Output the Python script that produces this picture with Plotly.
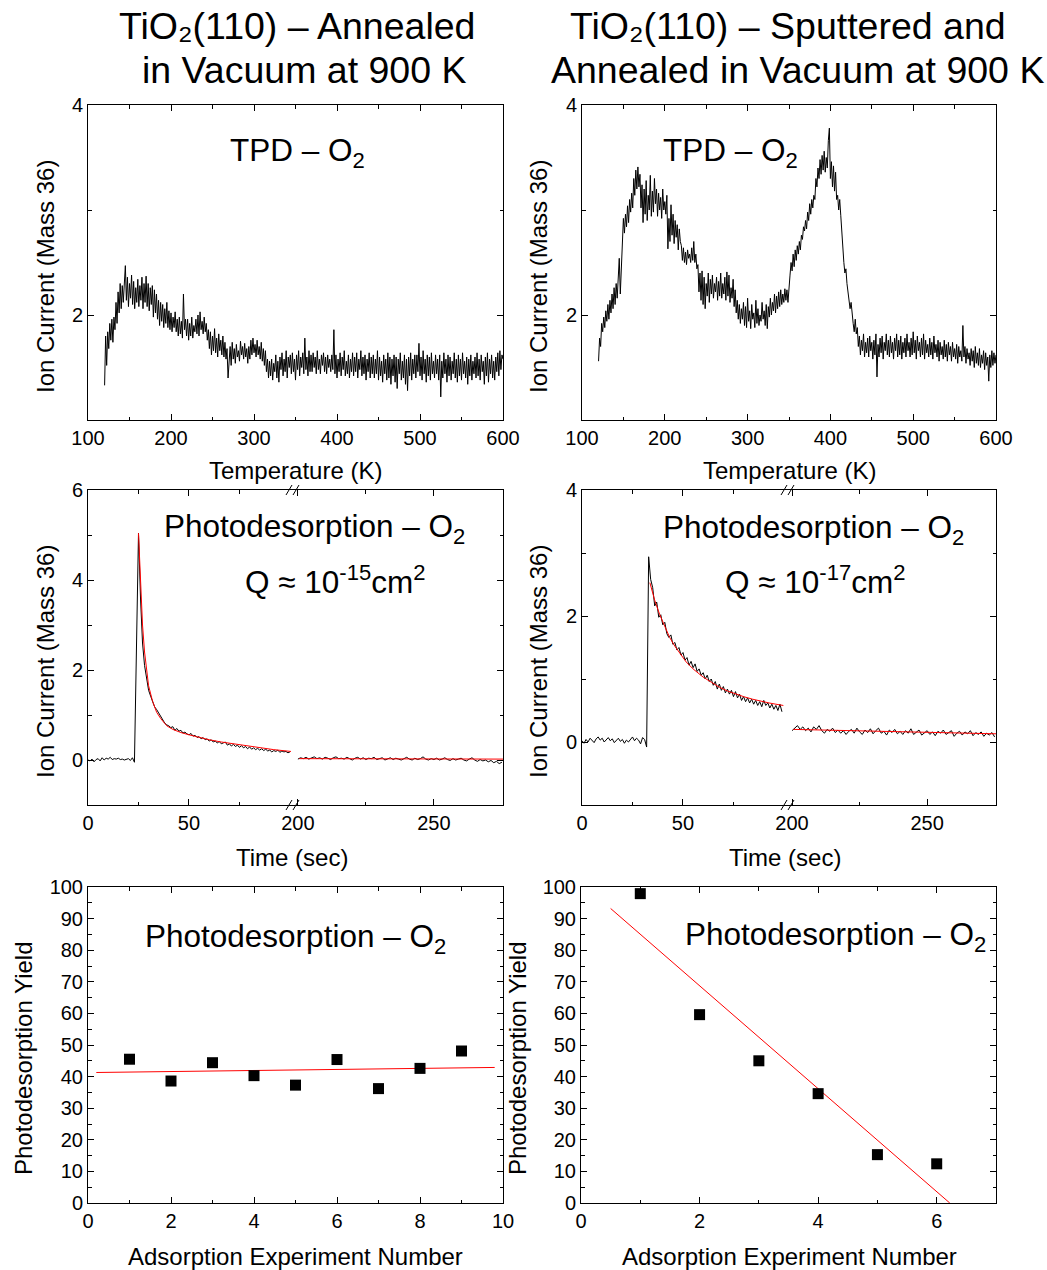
import numpy as np
import plotly.graph_objects as go

W, H = 1047, 1270
FONT = "Arial, Liberation Sans, DejaVu Sans, sans-serif"

# ---------------------------------------------------------------- TPD data
# Mass-36 ion current, sampled every 1.25 K from 120 K to 600 K
tpd_start, tpd_step = 120.0, 1.25
tpd_annealed = [
    1.33, 1.80, 1.52, 1.84, 1.68, 1.92, 1.76, 1.96, 1.74, 1.98, 1.86, 2.12, 1.92, 2.22, 2.02, 2.30, 2.06, 2.28, 2.12, 2.34,
    2.47, 2.14, 2.36, 2.08, 2.30, 2.16, 2.38, 2.10, 2.32, 2.06, 2.26, 2.12, 2.34, 2.08, 2.28, 2.14, 2.36, 2.06, 2.30, 2.12,
    2.37, 2.08, 2.30, 2.04, 2.26, 2.10, 2.28, 1.98, 2.24, 2.02, 2.20, 1.96, 2.14, 1.90, 2.12, 1.94, 2.10, 1.88, 2.06, 1.92,
    2.12, 1.88, 2.04, 1.86, 2.02, 1.84, 1.98, 1.88, 2.03, 1.84, 1.96, 1.80, 1.98, 1.82, 1.94, 1.78, 2.20, 1.86, 1.96, 1.80,
    1.96, 1.76, 1.92, 1.80, 1.98, 1.78, 1.90, 1.84, 1.96, 1.82, 2.00, 1.80, 2.03, 1.86, 1.94, 1.82, 1.98, 1.84, 1.92, 1.76,
    1.86, 1.68, 1.84, 1.62, 1.80, 1.66, 1.87, 1.64, 1.78, 1.60, 1.82, 1.66, 1.76, 1.62, 1.80, 1.60, 1.74, 1.58, 1.68, 1.40,
    1.62, 1.70, 1.52, 1.74, 1.58, 1.68, 1.54, 1.72, 1.60, 1.66, 1.56, 1.75, 1.62, 1.70, 1.58, 1.73, 1.60, 1.68, 1.54, 1.70,
    1.58, 1.76, 1.62, 1.78, 1.64, 1.72, 1.60, 1.76, 1.62, 1.70, 1.58, 1.74, 1.56, 1.68, 1.52, 1.66, 1.46, 1.58, 1.40, 1.56,
    1.42, 1.58, 1.38, 1.54, 1.46, 1.62, 1.40, 1.56, 1.36, 1.60, 1.48, 1.64, 1.42, 1.58, 1.46, 1.66, 1.40, 1.60, 1.50, 1.62,
    1.44, 1.64, 1.46, 1.58, 1.38, 1.62, 1.48, 1.66, 1.42, 1.60, 1.50, 1.64, 1.44, 1.78, 1.48, 1.60, 1.42, 1.66, 1.46, 1.62,
    1.46, 1.64, 1.50, 1.60, 1.44, 1.66, 1.48, 1.58, 1.44, 1.62, 1.52, 1.64, 1.46, 1.60, 1.44, 1.62, 1.50, 1.58, 1.46, 1.62,
    1.48, 1.86, 1.44, 1.62, 1.40, 1.58, 1.46, 1.64, 1.42, 1.60, 1.48, 1.66, 1.42, 1.56, 1.44, 1.62, 1.40, 1.58, 1.46, 1.64,
    1.42, 1.60, 1.46, 1.64, 1.40, 1.58, 1.48, 1.66, 1.42, 1.60, 1.44, 1.62, 1.38, 1.58, 1.46, 1.64, 1.40, 1.60, 1.44, 1.62,
    1.40, 1.58, 1.44, 1.66, 1.38, 1.60, 1.42, 1.56, 1.36, 1.62, 1.44, 1.58, 1.38, 1.64, 1.40, 1.60, 1.34, 1.58, 1.42, 1.62,
    1.36, 1.60, 1.30, 1.58, 1.44, 1.64, 1.38, 1.56, 1.40, 1.62, 1.34, 1.58, 1.28, 1.60, 1.42, 1.64, 1.38, 1.58, 1.44, 1.62,
    1.40, 1.62, 1.46, 1.73, 1.42, 1.60, 1.38, 1.66, 1.44, 1.58, 1.36, 1.62, 1.42, 1.60, 1.38, 1.64, 1.44, 1.56, 1.40, 1.62,
    1.44, 1.58, 1.38, 1.62, 1.22, 1.56, 1.40, 1.64, 1.44, 1.58, 1.36, 1.62, 1.42, 1.60, 1.38, 1.56, 1.44, 1.64, 1.40, 1.58,
    1.36, 1.62, 1.42, 1.58, 1.38, 1.64, 1.44, 1.56, 1.40, 1.60, 1.34, 1.58, 1.42, 1.62, 1.38, 1.56, 1.44, 1.60, 1.40, 1.64,
    1.42, 1.58, 1.38, 1.62, 1.46, 1.56, 1.34, 1.60, 1.42, 1.64, 1.36, 1.58, 1.44, 1.62, 1.40, 1.56, 1.38, 1.60, 1.46, 1.64,
    1.42, 1.66, 1.48, 1.62, 1.58,
]
tpd_sputtered = [
    1.56, 1.78, 1.70, 1.92, 1.84, 1.98, 1.88, 2.04, 1.94, 2.10, 1.96, 2.14, 2.02, 2.20, 2.06, 2.26, 2.10, 2.30, 2.16, 2.40,
    2.54, 2.20, 2.48, 2.80, 2.92, 2.78, 2.96, 2.84, 3.04, 2.88, 3.10, 2.98, 3.16, 3.02, 3.30, 3.14, 3.38, 3.20, 3.41, 3.22,
    3.34, 3.02, 3.24, 2.88, 3.20, 2.96, 3.28, 2.90, 3.14, 3.00, 3.33, 2.94, 3.18, 2.98, 3.30, 3.06, 3.20, 2.94, 3.16, 3.00,
    3.12, 2.92, 3.20, 3.00, 3.08, 2.96, 3.14, 2.63, 2.92, 2.70, 3.05, 2.76, 2.96, 2.68, 2.90, 2.74, 2.86, 2.62, 2.82, 2.70,
    2.66, 2.52, 2.64, 2.50, 2.60, 2.48, 2.62, 2.54, 2.58, 2.50, 2.64, 2.52, 2.70, 2.50, 2.58, 2.44, 2.48, 2.22, 2.40, 2.14,
    2.42, 2.10, 2.36, 2.06, 2.30, 2.18, 2.40, 2.12, 2.34, 2.20, 2.38, 2.16, 2.30, 2.22, 2.36, 2.14, 2.32, 2.18, 2.40, 2.16,
    2.30, 2.20, 2.36, 2.14, 2.41, 2.18, 2.38, 2.12, 2.26, 2.16, 2.34, 2.08, 2.24, 2.02, 2.14, 1.96, 2.10, 1.92, 2.06, 1.96,
    2.12, 1.90, 2.08, 1.88, 2.16, 1.94, 2.04, 1.87, 2.10, 1.96, 2.02, 1.88, 2.14, 1.92, 2.06, 1.90, 2.00, 1.94, 2.12, 1.96,
    2.04, 1.90, 2.10, 1.87, 2.08, 1.98, 2.16, 2.00, 2.12, 2.04, 2.20, 2.02, 2.18, 2.06, 2.22, 2.08, 2.24, 2.10, 2.20, 2.12,
    2.25, 2.14, 2.24, 2.12, 2.30, 2.38, 2.50, 2.42, 2.58, 2.46, 2.62, 2.52, 2.66, 2.58, 2.70, 2.62, 2.76, 2.72, 2.84, 2.80,
    2.90, 2.82, 2.98, 2.90, 3.06, 2.96, 3.10, 3.02, 3.14, 3.10, 3.30, 3.22, 3.40, 3.30, 3.48, 3.34, 3.52, 3.38, 3.56, 3.36,
    3.50, 3.40, 3.66, 3.78, 3.30, 3.46, 3.22, 3.42, 3.18, 3.36, 3.10, 3.14, 3.00, 3.10, 2.95, 2.78, 2.60, 2.50, 2.40, 2.44,
    2.30, 2.22, 2.14, 2.06, 2.12, 1.98, 1.92, 1.84, 1.96, 1.82, 1.88, 1.70, 1.80, 1.62, 1.76, 1.66, 1.82, 1.60, 1.74, 1.64,
    1.78, 1.60, 1.80, 1.66, 1.74, 1.58, 1.76, 1.62, 1.82, 1.41, 1.72, 1.60, 1.78, 1.64, 1.80, 1.58, 1.74, 1.66, 1.82, 1.62,
    1.76, 1.60, 1.80, 1.64, 1.74, 1.58, 1.78, 1.66, 1.82, 1.60, 1.76, 1.62, 1.80, 1.58, 1.74, 1.64, 1.78, 1.60, 1.82, 1.66,
    1.74, 1.60, 1.78, 1.62, 1.84, 1.64, 1.76, 1.58, 1.80, 1.66, 1.74, 1.60, 1.78, 1.62, 1.82, 1.58, 1.76, 1.64, 1.72, 1.60,
    1.78, 1.62, 1.74, 1.58, 1.80, 1.64, 1.72, 1.60, 1.76, 1.56, 1.74, 1.62, 1.70, 1.58, 1.76, 1.60, 1.72, 1.56, 1.74, 1.62,
    1.70, 1.56, 1.74, 1.60, 1.68, 1.58, 1.72, 1.54, 1.70, 1.60, 1.66, 1.56, 1.90, 1.60, 1.70, 1.54, 1.68, 1.58, 1.64, 1.52,
    1.68, 1.56, 1.66, 1.50, 1.70, 1.54, 1.64, 1.52, 1.68, 1.50, 1.62, 1.54, 1.66, 1.48, 1.64, 1.52, 1.60, 1.37, 1.62, 1.50,
    1.66, 1.52, 1.64, 1.54, 1.62,
]

# ------------------------------------------------- photodesorption traces
# early part sampled every 1 s from 0 s, late part every 1 s from 200 s
pd_step = 1.0
pd_early_start, pd_late_start = 0.0, 200.0

pd_annealed_early = [
    0.00, -0.02, 0.02, -0.04, 0.01, 0.03, -0.02, 0.05, 0.00, 0.04,
    0.02, 0.06, 0.01, 0.03, 0.02, 0.04, 0.01, 0.02, 0.00, 0.01,
    0.03, -0.01, 0.05, -0.05, 2.50, 5.04, 3.60, 2.60, 2.10, 1.85,
    1.55, 1.42, 1.28, 1.18, 1.12, 1.04, 0.96, 0.90, 0.82, 0.78,
    0.76, 0.72, 0.74, 0.66, 0.70, 0.64, 0.66, 0.60, 0.62, 0.58,
    0.56, 0.59, 0.53, 0.55, 0.50, 0.52, 0.47, 0.50, 0.45, 0.47,
    0.42, 0.45, 0.40, 0.42, 0.38, 0.41, 0.36, 0.38, 0.40, 0.33,
    0.36, 0.31, 0.35, 0.30, 0.33, 0.28, 0.32, 0.27, 0.30, 0.25,
    0.29, 0.24, 0.27, 0.23, 0.26, 0.22, 0.25, 0.21, 0.24, 0.20,
    0.22, 0.18, 0.21, 0.19, 0.22, 0.17, 0.20, 0.18, 0.19, 0.16,
    0.18,
]
pd_annealed_late = [
    0.02, 0.05, 0.03, 0.06, 0.02, 0.04, 0.07, 0.03, 0.05, 0.02,
    0.06, 0.04, 0.01, 0.05, 0.07, 0.03, 0.04, 0.02, 0.06, 0.03,
    0.00, 0.04, 0.06, 0.02, 0.05, 0.01, 0.04, 0.03, 0.06, 0.01,
    0.03, 0.05, 0.00, 0.03, 0.05, 0.01, 0.04, 0.02, 0.00, 0.03,
    0.06, 0.02, 0.00, 0.04, 0.01, 0.03, 0.07, 0.02, 0.00, 0.03,
    0.01, 0.04, 0.00, 0.02, 0.05, 0.01, -0.01, 0.03, 0.00, 0.02,
    0.04, 0.00, -0.02, 0.02, 0.05, 0.00, -0.03, 0.01, -0.02, 0.00,
    -0.04, -0.01, -0.06, -0.03, -0.08, -0.05,
]
fit_annealed_t_early = [25, 26, 27, 28, 29, 30, 32, 34, 36, 39, 42, 46, 50,
                        55, 60, 66, 72, 78, 85, 92, 100.5]
fit_annealed_early = [5.04, 3.90, 3.00, 2.40, 1.95, 1.65, 1.30, 1.06, 0.92,
                      0.76, 0.68, 0.61, 0.56, 0.50, 0.45, 0.40, 0.36, 0.32,
                      0.27, 0.23, 0.19]
fit_annealed_t_late = [200.5, 240, 275.5]
fit_annealed_late = [0.03, 0.025, 0.02]

pd_sputtered_early = [
    0.02, -0.02, 0.04, 0.00, 0.06, 0.02, -0.01, 0.05, 0.08, 0.03,
    0.06, 0.00, 0.04, 0.07, 0.02, 0.05, -0.01, 0.03, 0.06, 0.01,
    0.04, -0.02, 0.03, 0.00, 0.05, 0.08, 0.02, 0.06, 0.03, -0.03,
    0.07, 0.04, -0.08, 2.94, 2.58, 2.45, 2.16, 2.22, 1.98, 2.02,
    1.86, 1.90, 1.72, 1.66, 1.70, 1.55, 1.58, 1.46, 1.50, 1.38,
    1.42, 1.30, 1.34, 1.22, 1.28, 1.18, 1.24, 1.12, 1.16, 1.06,
    1.10, 1.00, 1.06, 0.96, 1.00, 0.90, 0.96, 0.84, 0.92, 0.82,
    0.88, 0.78, 0.84, 0.76, 0.82, 0.72, 0.80, 0.70, 0.76, 0.66,
    0.72, 0.64, 0.70, 0.62, 0.68, 0.60, 0.66, 0.58, 0.64, 0.56,
    0.66, 0.58, 0.62, 0.54, 0.60, 0.52, 0.58, 0.50, 0.60, 0.48,
]
pd_sputtered_late = [
    0.18, 0.22, 0.26, 0.20, 0.24, 0.18, 0.22, 0.16, 0.24, 0.20,
    0.26, 0.18, 0.14, 0.20, 0.17, 0.22, 0.15, 0.19, 0.14, 0.18,
    0.12, 0.17, 0.20, 0.14, 0.22, 0.16, 0.12, 0.19, 0.15, 0.21,
    0.13, 0.18, 0.22, 0.14, 0.17, 0.11, 0.19, 0.15, 0.20, 0.13,
    0.17, 0.12, 0.18, 0.14, 0.21, 0.12, 0.16, 0.19, 0.11, 0.15,
    0.18, 0.12, 0.16, 0.10, 0.17, 0.14, 0.19, 0.12, 0.15, 0.18,
    0.09, 0.14, 0.17, 0.11, 0.16, 0.13, 0.18, 0.10, 0.15, 0.12,
    0.16, 0.09, 0.14, 0.11, 0.15, 0.08,
]
fit_sputtered_t_early = [33.6, 36, 38.5, 41, 43.4, 46, 48.4, 51.6, 55, 60, 64,
                         68, 72, 76, 80, 84.4, 88, 92.6, 96, 99.7]
fit_sputtered_early = [2.53, 2.25, 2.02, 1.83, 1.66, 1.52, 1.41, 1.27, 1.16,
                       1.03, 0.95, 0.87, 0.81, 0.76, 0.72, 0.68, 0.65, 0.62,
                       0.60, 0.58]
fit_sputtered_t_late = [200.5, 275.5]
fit_sputtered_late = [0.20, 0.13]

# --------------------------------------------------- yield vs. experiment
exp_annealed = [1, 2, 3, 4, 5, 6, 7, 8, 9]
yield_annealed = [45.5, 38.6, 44.4, 40.3, 37.3, 45.4, 36.2, 42.6, 48.1]
fit_annealed_x = [0.2, 9.8]
fit_annealed_y = [41.3, 42.9]

exp_sputtered = [1, 2, 3, 4, 5, 6]
yield_sputtered = [97.9, 59.6, 45.0, 34.6, 15.3, 12.4]
fit_sputtered_x = [0.5, 6.22]
fit_sputtered_y = [93.2, 0.0]


def grid(start, step, values):
    return start + step * np.arange(len(values))


def xdom(a, b):
    return [a / W, b / W]


def ydom(top, bottom):
    return [1 - bottom / H, 1 - top / H]


fig = go.Figure()
black = dict(color="black", width=1)
red = dict(color="red", width=1)

# TPD panels
fig.add_trace(go.Scatter(x=grid(tpd_start, tpd_step, tpd_annealed), y=tpd_annealed,
                         mode="lines", line=black, xaxis="x", yaxis="y"))
fig.add_trace(go.Scatter(x=grid(tpd_start, tpd_step, tpd_sputtered), y=tpd_sputtered,
                         mode="lines", line=black, xaxis="x2", yaxis="y2"))

# photodesorption, annealed surface (broken time axis)
fig.add_trace(go.Scatter(x=grid(pd_early_start, pd_step, pd_annealed_early), y=pd_annealed_early,
                         mode="lines", line=black, xaxis="x3", yaxis="y3"))
fig.add_trace(go.Scatter(x=fit_annealed_t_early, y=fit_annealed_early,
                         mode="lines", line=red, xaxis="x3", yaxis="y3"))
fig.add_trace(go.Scatter(x=grid(pd_late_start, pd_step, pd_annealed_late), y=pd_annealed_late,
                         mode="lines", line=black, xaxis="x4", yaxis="y4"))
fig.add_trace(go.Scatter(x=fit_annealed_t_late, y=fit_annealed_late,
                         mode="lines", line=red, xaxis="x4", yaxis="y4"))

# photodesorption, sputtered surface (broken time axis)
fig.add_trace(go.Scatter(x=grid(pd_early_start, pd_step, pd_sputtered_early), y=pd_sputtered_early,
                         mode="lines", line=black, xaxis="x5", yaxis="y5"))
fig.add_trace(go.Scatter(x=fit_sputtered_t_early, y=fit_sputtered_early,
                         mode="lines", line=red, xaxis="x5", yaxis="y5"))
fig.add_trace(go.Scatter(x=grid(pd_late_start, pd_step, pd_sputtered_late), y=pd_sputtered_late,
                         mode="lines", line=black, xaxis="x6", yaxis="y6"))
fig.add_trace(go.Scatter(x=fit_sputtered_t_late, y=fit_sputtered_late,
                         mode="lines", line=red, xaxis="x6", yaxis="y6"))

# yields
sq = dict(symbol="square", size=11, color="black")
fig.add_trace(go.Scatter(x=fit_annealed_x, y=fit_annealed_y, mode="lines", line=red,
                         xaxis="x7", yaxis="y7"))
fig.add_trace(go.Scatter(x=exp_annealed, y=yield_annealed, mode="markers", marker=sq,
                         xaxis="x7", yaxis="y7"))
fig.add_trace(go.Scatter(x=fit_sputtered_x, y=fit_sputtered_y, mode="lines", line=red,
                         xaxis="x8", yaxis="y8"))
fig.add_trace(go.Scatter(x=exp_sputtered, y=yield_sputtered, mode="markers", marker=sq,
                         xaxis="x8", yaxis="y8"))

tickfont = dict(family=FONT, size=20, color="black")


def axis(rng, domain, anchor, mirror="ticks", side=None, labels=True, **kw):
    d = dict(range=rng, domain=domain, anchor=anchor, showline=True, linecolor="black",
             linewidth=1, mirror=mirror, ticks="inside", ticklen=6, tickcolor="black",
             showgrid=False, zeroline=False, tickfont=tickfont, showticklabels=labels,
             automargin=False, fixedrange=True)
    if side:
        d["side"] = side
    d.update(kw)
    return d


def minor(**kw):
    d = dict(ticks="inside", ticklen=3.5, tickcolor="black", showgrid=False)
    d.update(kw)
    return d


# panel frames (pixel edges)
L1, R1 = 88, 503
L2, R2 = 582, 996
BRK1, BRK2 = 293, 788
TOP_ROW = ydom(105, 420)
MID_ROW = ydom(490, 805)
BOT_ROW = ydom(887, 1203)

layout = dict(
    template="none",
    width=W, height=H, margin=dict(l=0, r=0, t=0, b=0, pad=0),
    paper_bgcolor="white", plot_bgcolor="white", showlegend=False,
    font=dict(family=FONT, color="black"),
    # TPD
    xaxis=axis([100, 600], xdom(L1, R1), "y", dtick=100, minor=minor(dtick=50)),
    yaxis=axis([1, 4], TOP_ROW, "x", tick0=0, dtick=2, minor=minor(dtick=1)),
    xaxis2=axis([100, 600], xdom(L2, R2), "y2", dtick=100, minor=minor(dtick=50)),
    yaxis2=axis([1, 4], TOP_ROW, "x2", tick0=0, dtick=2, minor=minor(dtick=1)),
    # photodesorption, left
    xaxis3=axis([0, 101.5], xdom(L1, BRK1), "y3", tickvals=[0, 50],
                minor=minor(tickvals=[25, 75])),
    yaxis3=axis([-1, 6], MID_ROW, "x3", mirror=False, tick0=0, dtick=2, minor=minor(dtick=1)),
    xaxis4=axis([198.2, 275.4], xdom(BRK1, R1), "y4", tickvals=[200, 250],
                minor=minor(tickvals=[225])),
    yaxis4=axis([-1, 6], MID_ROW, "x4", mirror=False, side="right", labels=False,
                tick0=0, dtick=2, minor=minor(dtick=1)),
    # photodesorption, right
    xaxis5=axis([0, 102], xdom(L2, BRK2), "y5", tickvals=[0, 50],
                minor=minor(tickvals=[25, 75])),
    yaxis5=axis([-1, 4], MID_ROW, "x5", mirror=False, tick0=0, dtick=2, minor=minor(dtick=1)),
    xaxis6=axis([198.5, 275.5], xdom(BRK2, R2), "y6", tickvals=[200, 250],
                minor=minor(tickvals=[225])),
    yaxis6=axis([-1, 4], MID_ROW, "x6", mirror=False, side="right", labels=False,
                tick0=0, dtick=2, minor=minor(dtick=1)),
    # yields
    xaxis7=axis([0, 10], xdom(L1, R1), "y7", dtick=2, minor=minor(dtick=1)),
    yaxis7=axis([0, 100], BOT_ROW, "x7", dtick=10, minor=minor(dtick=5)),
    xaxis8=axis([0, 7], xdom(L2 - 1, R2), "y8", dtick=2, minor=minor(dtick=1)),
    yaxis8=axis([0, 100], BOT_ROW, "x8", dtick=10, minor=minor(dtick=5)),
)
fig.update_layout(**layout)


def note(text, X, Y, size, angle=0):
    fig.add_annotation(text=text, x=X / W, y=1 - Y / H, xref="paper", yref="paper",
                       xanchor="center", yanchor="middle", showarrow=False, textangle=angle,
                       font=dict(family=FONT, size=size, color="black"))


# column headings
note("TiO₂(110) – Annealed", 297, 26, 37.5)
note("in Vacuum at 900 K", 304, 70, 37.5)
note("TiO₂(110) – Sputtered and", 788, 26, 37.5)
note("Annealed in Vacuum at 900 K", 797, 70, 37.5)

# labels inside panels
O2 = "O<sub>2</sub>"
note("TPD – " + O2, 297, 153, 31.5)
note("TPD – " + O2, 730, 153, 31.5)
note("Photodesorption – " + O2, 314, 528, 31.5)
note("Q ≈ 10<sup>-15</sup>cm<sup>2</sup>", 335, 580, 31.5)
note("Photodesorption – " + O2, 813, 529, 31.5)
note("Q ≈ 10<sup>-17</sup>cm<sup>2</sup>", 815, 580, 31.5)
note("Photodesorption – " + O2, 295, 938, 31.5)
note("Photodesorption – " + O2, 835, 936, 31.5)

# axis titles
for X in (45, 538):
    note("Ion Current (Mass 36)", X, 277, 24, -90)
    note("Ion Current (Mass 36)", X, 662, 24, -90)
note("Photodesorption Yield", 23, 1058, 24, -90)
note("Photodesorption Yield", 517, 1058, 24, -90)
note("Temperature (K)", 295, 470, 24)
note("Temperature (K)", 789, 470, 24)
note("Time (sec)", 292, 857, 24)
note("Time (sec)", 785, 857, 24)
note("Adsorption Experiment Number", 295, 1256, 24)
note("Adsorption Experiment Number", 789, 1256, 24)

# "//" marks where the time axis is broken
for bx in (BRK1, BRK2):
    for ey in (490, 805):
        for dx in (-4, 3):
            fig.add_shape(type="line", xref="paper", yref="paper",
                          x0=(bx + dx - 3) / W, y0=1 - (ey + 5) / H,
                          x1=(bx + dx + 3) / W, y1=1 - (ey - 5) / H,
                          line=dict(color="black", width=1))

fig.write_html("out.html")
